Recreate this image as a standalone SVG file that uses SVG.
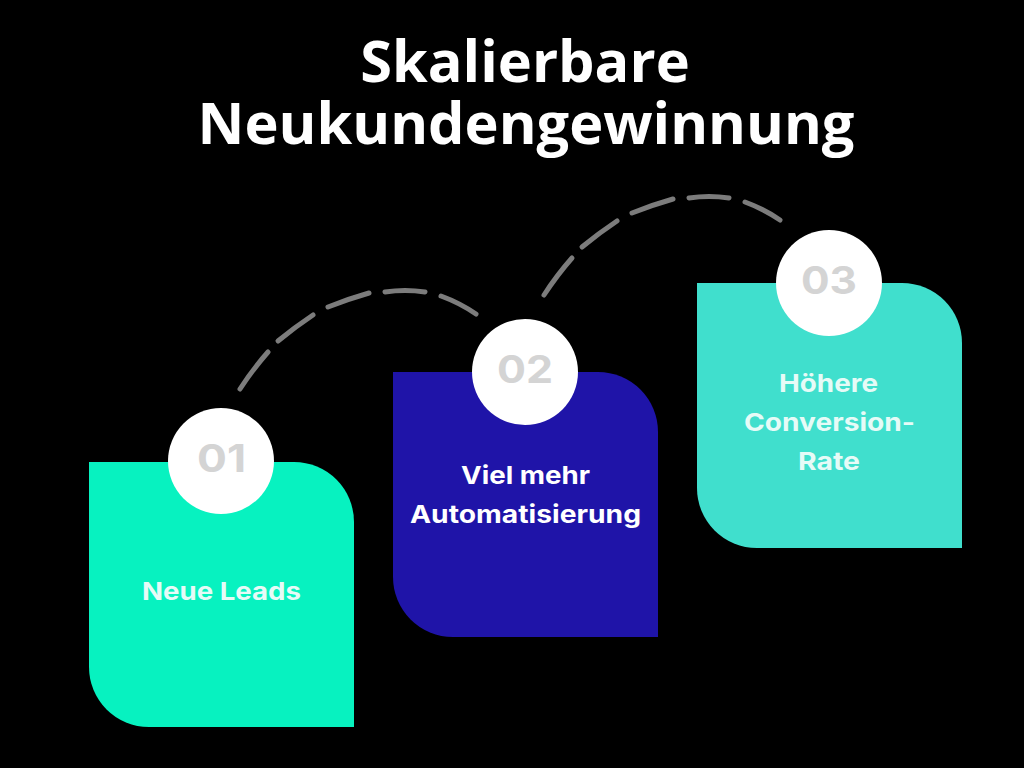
<svg xmlns="http://www.w3.org/2000/svg" width="1024" height="768" viewBox="0 0 1024 768">
<style>
.title{font-family:"Open Sans",sans-serif;font-weight:700;font-size:57.7px;fill:#fff;text-anchor:middle}
.label{font-family:Inter,"Liberation Sans",sans-serif;font-weight:700;font-size:24.5px;fill:#fff;text-anchor:middle}
.label.soft{fill:#e6fbf7}
.num{font-family:Inter,"Liberation Sans",sans-serif;font-weight:700;font-size:38px;fill:#d4d4d4;text-anchor:middle}
.dash{fill:none;stroke:#7c7c7c;stroke-width:5;stroke-linecap:round}
.disc{fill:#fff}
</style>
<rect width="1024" height="768" fill="#000"/>
<g id="title">
<text class="title" x="525" y="82">Skalierbare</text>
<text class="title" x="526" y="144">Neukundengewinnung</text>
</g>
<g id="connectors">
<path class="dash" d="M240 389Q253 369 268 352"/>
<path class="dash" d="M278 341Q295 327 313 315"/>
<path class="dash" d="M328 307Q348 299 369 293"/>
<path class="dash" d="M385 292Q405 289 425 292"/>
<path class="dash" d="M441 296Q460 303 476 314"/>
<path class="dash" d="M544 295Q557 275 572 258"/>
<path class="dash" d="M582 247Q599 233 617 221"/>
<path class="dash" d="M632 213Q652 205 673 199"/>
<path class="dash" d="M689 198Q709 195 729 198"/>
<path class="dash" d="M745 202Q764 209 780 220"/>
</g>
<g id="node1">
<path d="M89 462H294A60 60 0 0 1 354 522V727H149A60 60 0 0 1 89 667Z" fill="#07f2c0"/>
<circle class="disc" cx="221" cy="461" r="53"/>
<text class="num" x="221.500" y="472" textLength="49" lengthAdjust="spacingAndGlyphs">01</text>
<text class="label soft" x="221.500" y="600" textLength="159" lengthAdjust="spacingAndGlyphs">Neue Leads</text>
</g>
<g id="node2">
<path d="M393 372H598A60 60 0 0 1 658 432V637H453A60 60 0 0 1 393 577Z" fill="#1f14a8"/>
<circle class="disc" cx="525" cy="372" r="53"/>
<text class="num" x="525" y="383" textLength="56" lengthAdjust="spacingAndGlyphs">02</text>
<text class="label" x="525.500" y="484" textLength="129" lengthAdjust="spacingAndGlyphs">Viel mehr</text>
<text class="label" x="525.500" y="523" textLength="231" lengthAdjust="spacingAndGlyphs">Automatisierung</text>
</g>
<g id="node3">
<path d="M697 283H902A60 60 0 0 1 962 343V548H757A60 60 0 0 1 697 488Z" fill="#40dfcd"/>
<circle class="disc" cx="829" cy="283" r="53"/>
<text class="num" x="829" y="294" textLength="56" lengthAdjust="spacingAndGlyphs">03</text>
<text class="label soft" x="828.500" y="392" textLength="99" lengthAdjust="spacingAndGlyphs">Höhere</text>
<text class="label soft" x="829.500" y="431" textLength="171" lengthAdjust="spacingAndGlyphs">Conversion-</text>
<text class="label soft" x="829" y="470" textLength="62" lengthAdjust="spacingAndGlyphs">Rate</text>
</g>
</svg>
